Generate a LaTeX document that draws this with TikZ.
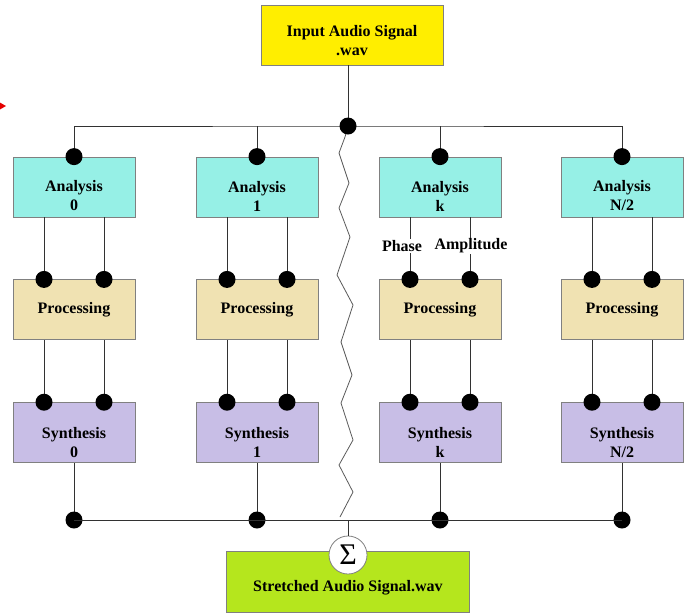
\documentclass[tikz,border=0pt]{standalone}
\usepackage{fontspec}
\setmainfont{Liberation Serif}
\usetikzlibrary{positioning}

\definecolor{sigyellow}{RGB}{255,238,0}
\definecolor{ancyan}{RGB}{150,240,230}
\definecolor{proctan}{RGB}{240,226,178}
\definecolor{synlilac}{RGB}{200,190,230}
\definecolor{outgreen}{RGB}{181,230,29}
\definecolor{edgegray}{RGB}{128,128,128}
\definecolor{wiregray}{RGB}{50,50,50}
\newcommand{\boxfont}{\fontsize{16}{19}\selectfont\bfseries}

\begin{document}
\begin{tikzpicture}[x=1pt, y=-1pt,
  block/.style={
    rectangle, draw=edgegray, line width=0.8pt,
    minimum width=122pt, minimum height=60pt, inner sep=0pt
  },
  anbox/.style={block, fill=ancyan},
  procbox/.style={block, fill=proctan, font=\boxfont},
  synbox/.style={block, fill=synlilac},
  boxtext/.style={font=\boxfont, align=center, inner sep=0pt},
  wire/.style={draw=wiregray, line width=0.8pt},
  jdot/.style={fill=black},
  sidelabel/.style={font=\boxfont, fill=white, inner sep=1pt},
  node distance=62pt
]
\useasboundingbox (0,0) rectangle (693,614);

% ==================== INPUT ====================

\node (in) [block, fill=sigyellow, minimum width=182pt] at (352,35) {};
\node (intext) [boxtext] at (352,41) {Input Audio Signal\\.wav};

\coordinate (topdot) at (348,126);
\coordinate (lowbus) at (348,520);

% ==================== BANDS ====================

% Analysis row
\node (a0) [anbox] at (74,187) {};
\node (a1) [anbox] at (257,187) {};
\node (ak) [anbox] at (440,187) {};
\node (an) [anbox] at (622,187) {};
\node (a0text) [boxtext] at ([yshift=-9pt]a0.center) {Analysis\\0};
\node (a1text) [boxtext] at ([yshift=-9pt]a1.center) {Analysis\\1};
\node (aktext) [boxtext] at ([yshift=-9pt]ak.center) {Analysis\\k};
\node (antext) [boxtext] at ([yshift=-9pt]an.center) {Analysis\\N/2};

% Processing row
\node (p0) [procbox, below=of a0] {Processing};
\node (p1) [procbox, below=of a1] {Processing};
\node (pk) [procbox, below=of ak] {Processing};
\node (pn) [procbox, below=of an] {Processing};

% Synthesis row
\node (s0) [synbox, below=of p0] {};
\node (s1) [synbox, below=of p1] {};
\node (sk) [synbox, below=of pk] {};
\node (sn) [synbox, below=of pn] {};
\node (s0text) [boxtext] at ([yshift=-10pt]s0.center) {Synthesis\\0};
\node (s1text) [boxtext] at ([yshift=-10pt]s1.center) {Synthesis\\1};
\node (sktext) [boxtext] at ([yshift=-10pt]sk.center) {Synthesis\\k};
\node (sntext) [boxtext] at ([yshift=-10pt]sn.center) {Synthesis\\N/2};

% ==================== OUTPUT ====================

\node (out) [block, fill=outgreen, minimum width=243pt, minimum height=61pt] at (348,582) {};
\node (outtext) [boxtext] at (348,588) {Stretched Audio Signal.wav};
\node (sum) [circle, draw=edgegray, fill=white, line width=0.8pt, minimum size=38pt,
  inner sep=0pt, font=\fontsize{30}{30}\selectfont] at (348,555) {Σ};

% ==================== WIRES ====================

\draw [wire] (in.south -| topdot) -- (topdot);
\draw [wire] (a0.north) |- (topdot) -| (an.north);
\draw [wire] (a1.north) -- (a1.north |- topdot);
\draw [wire] (ak.north) -- (ak.north |- topdot);

\foreach \c in {0,1,k,n} {
  \draw [wire] ([xshift=-30pt]a\c.south) -- ([xshift=-30pt]p\c.north);
  \draw [wire] ([xshift=30pt]a\c.south) -- ([xshift=30pt]p\c.north);
  \draw [wire] ([xshift=-30pt]p\c.south) -- ([xshift=-30pt]s\c.north);
  \draw [wire] ([xshift=30pt]p\c.south) -- ([xshift=30pt]s\c.north);
  \draw [wire] (s\c.south) -- (s\c.south |- lowbus);
  \fill [jdot] (a\c.north) circle (8.5pt)
    ([xshift=-30pt]p\c.north) circle (8.5pt) ([xshift=30pt]p\c.north) circle (8.5pt)
    ([xshift=-30pt]s\c.north) circle (8.5pt) ([xshift=30pt]s\c.north) circle (8.5pt)
    (s\c.south |- lowbus) circle (8.5pt);
}

\draw [wire] (s0.south |- lowbus) -- (sn.south |- lowbus);
\draw [wire] (lowbus) -- (sum.north);

% break between band 1 and band k
\coordinate (zz) at (340,517);
\draw [draw=edgegray!70!black, line width=0.8pt] (topdot) -- (345,137) -- (339,153)
  -- (349,183) -- (339,208) -- (350,237) -- (337,275) -- (353,305) -- (341,342)
  -- (352,375) -- (341,403) -- (353,440) -- (339,465) -- (353,492) -- (zz);
\fill [jdot] (topdot) circle (8.5pt);

% Phase / amplitude outputs of band k
\node (phase) [sidelabel] at (402,246) {Phase};
\node (amp) [sidelabel] at (471,246) {Amplitude};

% clipped marker on the left edge
\fill [red!90!black] (-8,98) -- (6,106) -- (-8,114) -- cycle;

\end{tikzpicture}
\end{document}
